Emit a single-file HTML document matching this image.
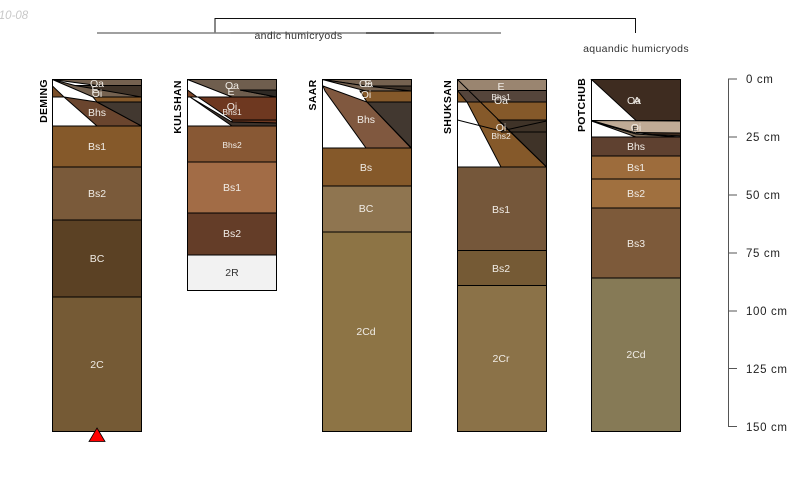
<!DOCTYPE html>
<html><head><meta charset="utf-8"><style>
html,body{margin:0;padding:0;background:#fff;width:800px;height:500px;overflow:hidden}
svg{display:block}
text{font-family:"Liberation Sans",sans-serif;font-size:10.5px}
.h{fill:#f0ece6;text-anchor:middle}
.s{font-size:8.5px}
.n{font-weight:bold;fill:#000;font-size:10.5px;text-anchor:middle;letter-spacing:.3px}
.a{fill:#222;font-size:11.5px;letter-spacing:.65px}
.e{stroke:#000;stroke-width:1}
</style></head><body>
<svg width="800" height="500" viewBox="0 0 800 500" xmlns="http://www.w3.org/2000/svg">
<text x="-14" y="19" style="font-style:italic;fill:#c8c8c8;font-size:11.5px">2010-08</text>
<path d="M215 33V18.500H635.500V33" fill="none" stroke="#111"/>
<path d="M97 33H501" stroke="#808080" stroke-width="1.500"/>
<path d="M231 33H366" stroke="#777" stroke-width="1"/><path d="M366 33H434" stroke="#444" stroke-width="1.500"/>
<text x="298.500" y="39" text-anchor="middle" style="fill:#333;font-size:10.5px;letter-spacing:.4px">andic humicryods</text>
<text x="636" y="52" text-anchor="middle" style="fill:#333;font-size:10.5px;letter-spacing:.35px">aquandic humicryods</text>

<!-- DEMING -->
<g class="e">
<rect x="52.500" y="79.500" width="89" height="352" fill="#fff"/>
<polygon points="52.500,79.500 141.500,79.500 141.500,85.500 97,85.500" fill="#756250"/>
<polygon points="75,85.500 141.500,85.500 141.500,97 96.500,97" fill="#3f3328"/>
<polygon points="52.500,79.500 75,85.500 141.500,97 93,97" fill="#756250"/>
<polygon points="52.500,86 52.500,97 64,97" fill="#7a4f2a"/>
<polygon points="93,97 141.500,97 141.500,102 97,102" fill="#85592a"/>
<polygon points="64,97 97,102 141.500,126 97,126" fill="#6a452e"/>
<polygon points="97,102 141.500,102 141.500,126" fill="#423830"/>
<rect x="52.500" y="126" width="89" height="41" fill="#85592a"/>
<rect x="52.500" y="167" width="89" height="53" fill="#7a5a3a"/>
<rect x="52.500" y="220" width="89" height="77" fill="#5b4124"/>
<rect x="52.500" y="297" width="89" height="134.500" fill="#755a35"/>
</g>
<text class="h" x="97" y="87">Oa</text><text class="h" x="95" y="93">E</text><text class="h" x="97" y="97">Oi</text><text class="h" x="97" y="116">Bhs</text>
<text class="h" x="97" y="150">Bs1</text><text class="h" x="97" y="197">Bs2</text><text class="h" x="97" y="262">BC</text><text class="h" x="97" y="368">2C</text>
<text class="n" transform="translate(47,101) rotate(-90)">DEMING</text>
<polygon points="97,428 105,441.500 89,441.500" fill="#f00" stroke="#000" stroke-width="0.800"/>

<!-- KULSHAN -->
<g class="e">
<rect x="187.500" y="79.500" width="89" height="211" fill="#fff"/>
<polygon points="187.500,79.500 276.500,79.500 276.500,90 240,90 276.500,97 232,97" fill="#6f5e4e"/>
<polygon points="240,90 276.500,90 276.500,97" fill="#2f2a25"/>
<polygon points="187.500,90 187.500,97 197,97" fill="#7a4528"/>
<polygon points="198,97 276.500,97 276.500,120 232,120" fill="#6e3820"/>
<polygon points="232,120 276.500,120 276.500,123 232,122" fill="#6e3820"/>
<polygon points="190,97 232,122 276.500,123 276.500,126 232,126" fill="#3e332b"/>
<rect x="187.500" y="126" width="89" height="36" fill="#885834"/>
<rect x="187.500" y="162" width="89" height="51" fill="#a26c46"/>
<rect x="187.500" y="213" width="89" height="42" fill="#643d28"/>
<rect x="187.500" y="255" width="89" height="35.500" fill="#f2f2f2"/>
</g>
<text class="h" x="232" y="89">Oa</text><text class="h" x="231" y="95">E</text><text class="h" x="232" y="110">Oi</text><text class="h s" x="232" y="115">Bhs1</text>
<text class="h s" x="232" y="148">Bhs2</text><text class="h" x="232" y="191">Bs1</text><text class="h" x="232" y="237">Bs2</text><text class="h" style="fill:#333" x="232" y="276">2R</text>
<text class="n" transform="translate(181,107) rotate(-90)">KULSHAN</text>

<!-- SAAR -->
<g class="e">
<rect x="322.500" y="79.500" width="89" height="352" fill="#fff"/>
<polygon points="322.500,79.500 411.500,79.500 411.500,86 366,86" fill="#756250"/>
<polygon points="366,86 411.500,86 411.500,91 366,91" fill="#3f3328"/>
<polygon points="322.500,79.500 366,86 411.500,91 366,91" fill="#756250"/>
<polygon points="360,91 411.500,91 411.500,102 367,102" fill="#85592a"/>
<polygon points="323,86 367,102 411,148 366,148 325,91" fill="#80583f"/>
<polygon points="367,102 411.500,102 411.500,148" fill="#423830"/>
<rect x="322.500" y="148" width="89" height="38" fill="#85592a"/>
<rect x="322.500" y="186" width="89" height="46" fill="#8f7550"/>
<rect x="322.500" y="232" width="89" height="199.500" fill="#8d7445"/>
</g>
<text class="h" x="366" y="87">Oa</text><text class="h" x="368" y="87">E</text><text class="h" x="366" y="98">Oi</text><text class="h" x="366" y="123">Bhs</text>
<text class="h" x="366" y="171">Bs</text><text class="h" x="366" y="212">BC</text><text class="h" x="366" y="335">2Cd</text>
<text class="n" transform="translate(316,95) rotate(-90)">SAAR</text>

<!-- SHUKSAN -->
<g class="e">
<rect x="457.500" y="79.500" width="89" height="352" fill="#fff"/>
<polygon points="457.500,79.500 546.500,79.500 546.500,90.500 457.500,90.500" fill="#9a8570"/>
<polygon points="457.500,90.500 546.500,90.500 546.500,102 457.500,102" fill="#55453b"/>
<polygon points="457.500,90.500 457.500,102 467,102" fill="#85592a"/>
<polygon points="467,102 546.500,102 546.500,167 501,167" fill="#85592a"/>
<polygon points="498,120 546.500,120 546.500,167" fill="#3f3328"/>
<path d="M457.500 79.500L546.500 167M457.500 120L501 131L546.500 121M501 132H546.500" fill="none"/>
<rect x="457.500" y="167" width="89" height="83.500" fill="#75573a"/>
<rect x="457.500" y="250.500" width="89" height="35" fill="#755a35"/>
<rect x="457.500" y="285.500" width="89" height="146" fill="#8b7248"/>
</g>
<text class="h" x="501" y="90">E</text><text class="h s" x="501" y="100">Bhs1</text><text class="h" x="501" y="104">Oa</text><text class="h" x="501" y="131">Oi</text><text class="h s" x="501" y="139">Bhs2</text>
<text class="h" x="501" y="213">Bs1</text><text class="h" x="501" y="272">Bs2</text><text class="h" x="501" y="362">2Cr</text>
<text class="n" transform="translate(451,107) rotate(-90)">SHUKSAN</text>

<!-- POTCHUB -->
<g class="e">
<rect x="591.500" y="79.500" width="89" height="352" fill="#fff"/>
<polygon points="591.500,79.500 680.500,79.500 680.500,120.500 636,120.500" fill="#3e2c20"/>
<polygon points="591.500,120.500 680.500,121 680.500,133 636,133" fill="#c0ab96"/>
<polygon points="591.500,121 636,134 680.500,137 636,137" fill="#7d6b58"/>
<polygon points="636,132.500 680.500,133 680.500,136 652,134.500" fill="#3e2c20"/>
<rect x="591.500" y="137" width="89" height="19" fill="#5f4130"/>
<rect x="591.500" y="156" width="89" height="23" fill="#9d6c3c"/>
<rect x="591.500" y="179" width="89" height="29" fill="#a0703f"/>
<rect x="591.500" y="208" width="89" height="70" fill="#7d5a3a"/>
<rect x="591.500" y="278" width="89" height="153.500" fill="#867a56"/>
</g>
<text class="h" x="634" y="104">Oa</text><text class="h" x="637" y="104">A</text><text class="h" x="636" y="131">Oi</text><text class="h" style="font-size:7px;fill:#111" x="635" y="131">E</text>
<text class="h" x="636" y="150">Bhs</text><text class="h" x="636" y="171">Bs1</text><text class="h" x="636" y="197">Bs2</text><text class="h" x="636" y="247">Bs3</text><text class="h" x="636" y="358">2Cd</text>
<text class="n" transform="translate(585,105) rotate(-90)">POTCHUB</text>

<!-- axis -->
<path d="M737 79H728.500V426.500H737M728.500 137H737M728.500 195H737M728.500 253H737M728.500 311H737M728.500 368.500H737" fill="none" stroke="#555"/>
<text class="a" x="746" y="83">0 cm</text><text class="a" x="746" y="141">25 cm</text><text class="a" x="746" y="199">50 cm</text><text class="a" x="746" y="257">75 cm</text><text class="a" x="746" y="315">100 cm</text><text class="a" x="746" y="373">125 cm</text><text class="a" x="746" y="431">150 cm</text>
</svg>
</body></html>
